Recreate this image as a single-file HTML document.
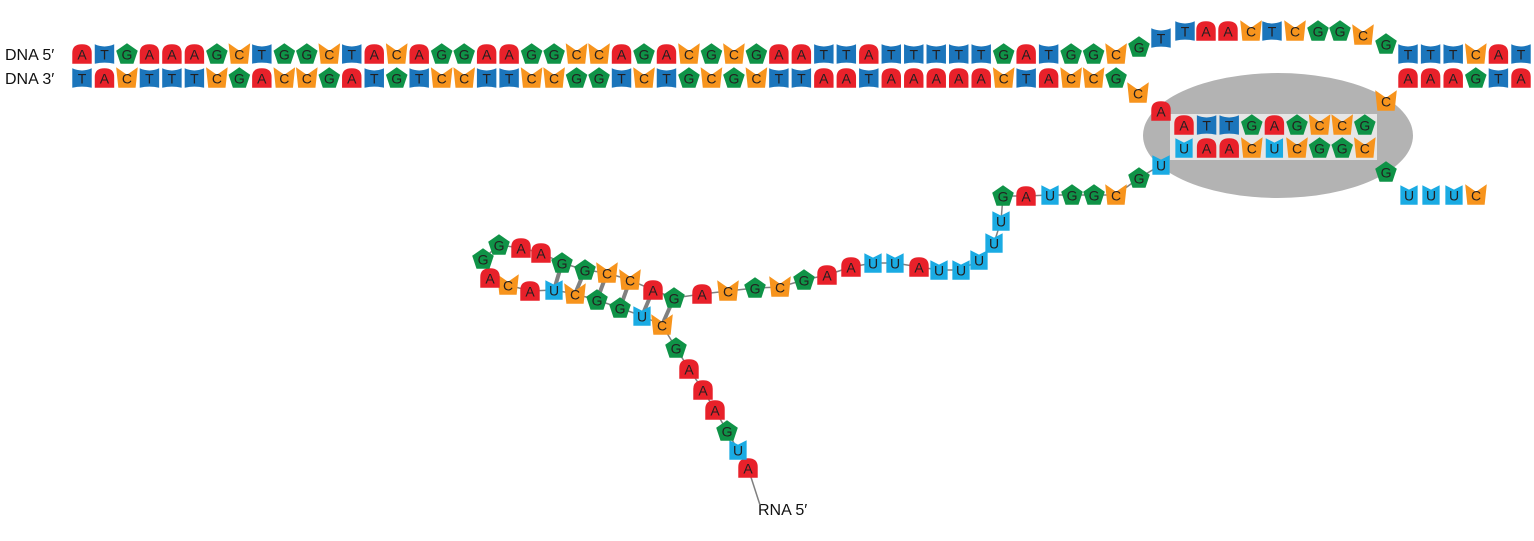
<!DOCTYPE html>
<html><head><meta charset="utf-8"><style>
html,body{margin:0;padding:0;background:#fff;}
svg{display:block;font-family:"Liberation Sans",sans-serif;}
</style></head><body>
<svg id="fig" width="1534" height="541" viewBox="0 0 1534 541" xmlns="http://www.w3.org/2000/svg">
<ellipse cx="1278" cy="135.5" rx="135" ry="62.5" fill="#b3b3b3"/>
<rect x="1170" y="114" width="207" height="46" fill="#e6e6e6"/>
<text x="5" y="60" font-size="16" fill="#111">DNA  5′</text>
<text x="5" y="84" font-size="16" fill="#111">DNA  3′</text>
<text x="758" y="515" font-size="16" fill="#111">RNA  5′</text>
<g id="links"></g><g id="nts"></g>
</svg>
<script>
const topSeq = "ATGAAAGCTGGCTACAGGAAGGCCAGACGCGAATTATTTTTGATGGC";
const comp = {A:"T",T:"A",G:"C",C:"G"};
const botSeq = topSeq.split("").map(c=>comp[c]).join("");
const bubbleTop = [["G",1139,47],["T",1161,38],["T",1185,31],["A",1206,31],["A",1228,31],["C",1251,31],["T",1272,31],["C",1295,31],["G",1318,31],["G",1340,31],["C",1363,35],["G",1386,44]];
const downTopSeq = "TTTCAT";
const downBotSeq = "AAAGTA";
const templateSeq = "ATTGAGCCG";
const hybridRnaSeq = "UAACUCGGC";
const rnaChain = [["A",748,468],["U",738,450],["G",727,431],["A",715,410],["A",703,390],["A",689,369],["G",676,348],["C",662,325],["U",642,316],["G",620,308],["G",597,300],["C",575,294],["U",554,290],["A",530,291],["C",508,285],["A",490,278],["G",483,259],["G",499,245],["A",521,248],["A",541,253],["G",562,263],["G",585,270],["C",607,273],["C",630,280],["A",653,290],["G",674,298],["A",702,294],["C",728,291],["G",755,288],["C",780,287],["G",804,280],["A",827,275],["A",851,267],["U",873,263],["U",895,263],["A",919,267],["U",939,270],["U",961,270],["U",979,260],["U",994,243],["U",1001,221],["G",1003,196],["A",1026,196],["U",1050,195],["G",1072,195],["G",1094,195],["C",1116,195],["G",1139,178],["U",1161,165]];
const stemPairs = [[20,12],[21,11],[22,10],[23,9],[24,8],[25,7]];
const extra = [["C",1138,93],["A",1161,111],["C",1386,101],["G",1386,172],["U",1409,195],["U",1431,195],["U",1454,195],["C",1476,195]];

const NS="http://www.w3.org/2000/svg";
const col={A:"#e8212a",T:"#1b75bb",U:"#1aabe3",G:"#0f9347",C:"#f7941d"};
const shp={
 A:"M-9,9 L-9,-1 Q-9,-9 0,-9 Q9,-9 9,-1 L9,9 Z",
 T:"M-9,-9 Q0,-5 9,-9 L9,9 Q0,7 -9,9 Z",
 U:"M-8,-9 L0,-5 L8,-9 L8,9 L-8,9 Z",
 C:"M-10,-10 L0,-3 L10,-10 L8,9 L-8,9 Z",
 G:"M0,-10 L10,-3 L6,9 L-6,9 L-10,-3 Z"};
const nts=document.getElementById("nts"), links=document.getElementById("links");
function nt(b,x,y){
 const g=document.createElementNS(NS,"g");
 g.setAttribute("transform",`translate(${x},${y})`);
 
 
 const p=document.createElementNS(NS,"path");
 p.setAttribute("d",shp[b]);p.setAttribute("fill",col[b]);
 p.setAttribute("transform","scale(1.08)");
 g.appendChild(p);
 const t=document.createElementNS(NS,"text");
 t.setAttribute("y","5.5");t.setAttribute("text-anchor","middle");
 t.setAttribute("font-size","14");t.setAttribute("fill","#231f20");
 t.textContent=b;g.appendChild(t);nts.appendChild(g);
}
function line(x1,y1,x2,y2,w,name){
 const l=document.createElementNS(NS,"line");
 l.setAttribute("x1",x1);l.setAttribute("y1",y1);l.setAttribute("x2",x2);l.setAttribute("y2",y2);
 l.setAttribute("stroke","#808080");l.setAttribute("stroke-width",w);
 
 
 links.appendChild(l);
}
const x0=82, step=22.48;
topSeq.split("").forEach((b,i)=>nt(b,x0+i*step,54));
botSeq.split("").forEach((b,i)=>nt(b,x0+i*step,78));
bubbleTop.forEach(d=>nt(d[0],d[1],d[2]));
downTopSeq.split("").forEach((b,i)=>nt(b,1408+i*22.6,54));
downBotSeq.split("").forEach((b,i)=>nt(b,1408+i*22.6,78));
templateSeq.split("").forEach((b,i)=>nt(b,1184+i*22.6,125));
hybridRnaSeq.split("").forEach((b,i)=>nt(b,1184+i*22.6,148));
extra.forEach(d=>nt(d[0],d[1],d[2]));
line(748,468,760,505,1.5,"rna-tail-line");
for(let i=1;i<rnaChain.length;i++){
 const a=rnaChain[i-1],b=rnaChain[i];
 line(a[1],a[2],b[1],b[2],1.5,"backbone-link");
}
stemPairs.forEach(p=>{const a=rnaChain[p[0]],b=rnaChain[p[1]];line(a[1],a[2],b[1],b[2],4,"base-pair-link");});
rnaChain.forEach(d=>nt(d[0],d[1],d[2]));
</script>
</body></html>
